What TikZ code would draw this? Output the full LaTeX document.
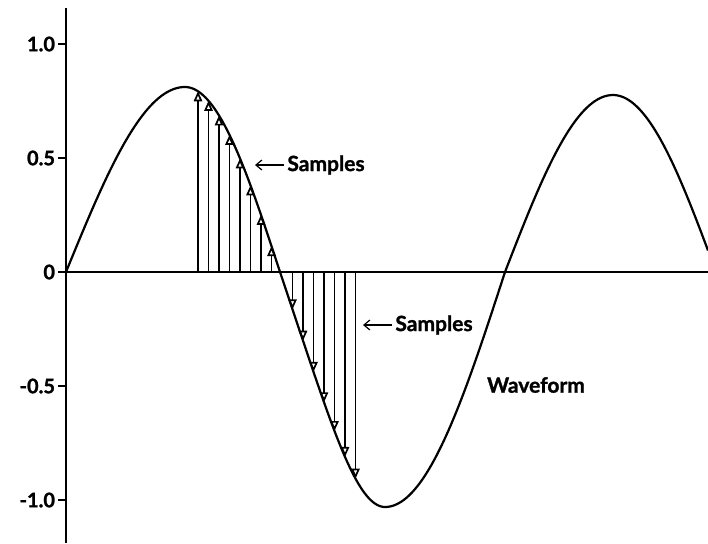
\documentclass[tikz,border=0pt]{standalone}
\usepackage{fontspec}
\setmainfont{Lato}[BoldFeatures={FakeBold=1.3}]
\usetikzlibrary{arrows.meta}

% ---- waveform height above the axis (pixel units) ----
\pgfmathdeclarefunction{wave}{1}{%
  \pgfmathparse{(#1<185) ? 185*sin((#1-66)/119*90) :
    ((#1<280) ? 185*sin(90+(#1-185)/95*90) :
    ((#1<385) ? -235*(0.85*sin((#1-280)/105*90)+0.15*sin((#1-280)/105*90)^3) :
    ((#1<505) ? 235*sin(270+(#1-385)/120*90) :
    ((#1<613) ? 177*sin(360+(#1-505)/108*90) :
    177*sin(450+(#1-613)/103*90)))))}%
}

\begin{document}
\begin{tikzpicture}[
    x=0.5pt, y=-0.5pt,
    axisline/.style={line width=1.4pt},
    curve/.style={line width=1.1pt, line join=round},
    sample/.style={line width=0.85pt, -{Triangle[open, length=5pt, width=4.2pt]}},
    tick/.style={line width=1pt},
    ticklabel/.style={anchor=east, inner sep=1pt, font=\fontsize{10}{12}\selectfont\bfseries},
    callout/.style={anchor=west, inner sep=1.5pt, font=\fontsize{10.5}{12}\selectfont\bfseries},
    pointer/.style={line width=0.6pt, -{Straight Barb[length=3pt, width=5pt]}},
]
\useasboundingbox (0,0) rectangle (708,543);

% ---- axes ----
\def\xzero{66}
\def\yzero{272}
\def\yunit{228}

\coordinate (o) at (\xzero,\yzero);
\coordinate (ytop) at (\xzero,8);
\coordinate (ybot) at (\xzero,543);
\coordinate (xend) at (708,\yzero);
\draw[axisline] (ytop) -- (ybot);
\draw[axisline] (o) -- (xend);

\foreach \v/\txt [count=\k] in {1/1.0, 0.5/0.5, 0/0, -0.5/-0.5, -1/-1.0} {
  \coordinate (tk-\k) at (\xzero,{\yzero-\v*\yunit});
  \draw[tick] (tk-\k) -- ++(-8,0) node[ticklabel] (tl-\k) {\txt};
}

% ---- waveform ----
\draw[curve] plot[domain=\xzero:708, samples=300] (\x,{\yzero-wave(\x)});

% ---- samples ----
\foreach \i in {0,...,15} {
  \ifnum\i=8
  \else
    \pgfmathsetmacro\sx{198+10.5*\i}
    \coordinate (b-\i) at (\sx,\yzero);
    \coordinate (t-\i) at (\sx,{\yzero-wave(\sx)});
    \draw[sample] (b-\i) -- (t-\i);
  \fi
}

% ---- labels ----
\node[callout] (samp-up) at (284,165) {Samples};
\coordinate (pt-up) at (255,165);
\draw[pointer] (samp-up.west) -- (pt-up);

\node[callout] (samp-dn) at (392,325) {Samples};
\coordinate (pt-dn) at (363,325);
\draw[pointer] (samp-dn.west) -- (pt-dn);

\node[font=\fontsize{10.5}{12}\selectfont\bfseries] (wform) at (536,385) {Waveform};

\end{tikzpicture}
\end{document}
